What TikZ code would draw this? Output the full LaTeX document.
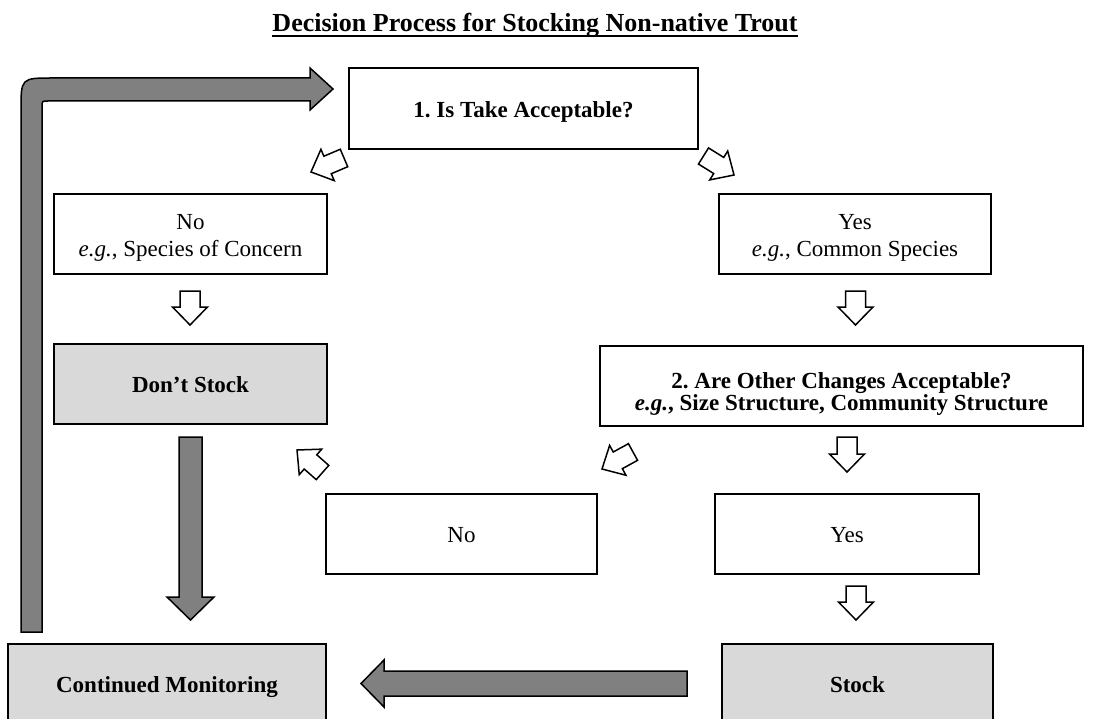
\documentclass[tikz,border=0pt]{standalone}
\usepackage{fontspec}
\setmainfont{Liberation Serif}
\usetikzlibrary{calc}
\definecolor{boxgray}{RGB}{217,217,217}
\definecolor{arrowgray}{RGB}{128,128,128}
\frenchspacing

% block arrow: style, tail, tip, shaft half width, head half width, head length
\newcommand{\blockarrow}[6]{%
  \coordinate (hb) at ($(#3)!#6!(#2)$);
  \draw[#1] ($(#2)!#4!90:(#3)$) -- ($(hb)!#4!90:(#3)$) -- ($(hb)!#5!90:(#3)$) -- (#3)
    -- ($(hb)!#5!-90:(#3)$) -- ($(hb)!#4!-90:(#3)$) -- ($(#2)!#4!-90:(#3)$) -- cycle;
}

\begin{document}
\begin{tikzpicture}[
    x=1pt, y=-1pt,
    box/.style={draw, line width=1.5pt, fill=white, minimum height=80pt, inner sep=0pt, align=center, font=\fontsize{23}{27}\selectfont},
    oneline/.style={box, text height=22pt, text depth=4.8pt},
    shaded/.style={oneline, fill=boxgray, font=\fontsize{23}{27}\selectfont\bfseries},
    hollow/.style={draw, line width=1.5pt, fill=white, line join=miter},
    solid/.style={draw, line width=1.5pt, fill=arrowgray, line join=miter}
]
\useasboundingbox (0,0) rectangle (1097,719);

% Title
\node[anchor=base, font=\fontsize{26}{30}\selectfont\bfseries, inner sep=0pt] (title) at (535,32) {Decision Process for Stocking Non-native Trout};
\draw[line width=2.5pt] ($(title.base west)+(0,4)$) -- ($(title.base east)+(0,4)$);

% First question
\node[oneline, minimum width=349pt, minimum height=81pt, font=\fontsize{23}{27}\selectfont\bfseries] (take) at (523.5,108.5) {1. Is Take Acceptable?};
\node[box, minimum width=273pt, text height=50pt] (no1) at (190.5,234) {No\\\textit{e.g.}, Species of Concern};
\node[box, minimum width=272pt, text height=50pt] (yes1) at (855,234) {Yes\\\textit{e.g.}, Common Species};
\node[shaded, minimum width=273pt] (dont) at (190.5,384) {Don’t Stock};

% Second question
\node[box, minimum width=483pt, text height=54pt, font=\fontsize{23}{22}\selectfont\bfseries] (other) at (841.5,386) {2. Are Other Changes Acceptable?\\\textit{e.g.}, Size Structure, Community Structure};
\node[oneline, minimum width=271pt] (no2) at (461.5,534) {No};
\node[oneline, minimum width=264pt] (yes2) at (847,534) {Yes};

% Outcomes
\node[shaded, minimum width=318pt] (monitor) at (167,684) {Continued Monitoring};
\node[shaded, minimum width=271pt] (stock) at (857.5,684) {Stock};

% Arrow ends
\coordinate (d1t) at (344,158);   \coordinate (d1h) at (311,172);
\coordinate (d2t) at (703.5,156); \coordinate (d2h) at (734,175);
\coordinate (a1t) at (190,291);   \coordinate (a1h) at (190,325);
\coordinate (a2t) at (855.5,291); \coordinate (a2h) at (855.5,325);
\coordinate (a3t) at (847,437);   \coordinate (a3h) at (847,472);
\coordinate (d3t) at (322.5,472.5); \coordinate (d3h) at (297,450);
\coordinate (d4t) at (633,452);   \coordinate (d4h) at (602,469);
\coordinate (a4t) at (856,586);   \coordinate (a4h) at (856,620);
\coordinate (g1t) at (190.5,437); \coordinate (g1h) at (190.5,620);
\coordinate (g2t) at (687,683.5); \coordinate (g2h) at (361,683.5);

% Hollow arrows
\blockarrow{hollow}{d1t}{d1h}{9.5pt}{17pt}{18pt}
\blockarrow{hollow}{d2t}{d2h}{9.5pt}{17pt}{18pt}
\blockarrow{hollow}{a1t}{a1h}{10pt}{17.5pt}{18pt}
\blockarrow{hollow}{a2t}{a2h}{10pt}{17.5pt}{18pt}
\blockarrow{hollow}{a3t}{a3h}{10pt}{17.5pt}{18pt}
\blockarrow{hollow}{d3t}{d3h}{9.5pt}{17pt}{18pt}
\blockarrow{hollow}{d4t}{d4h}{9.5pt}{17pt}{18pt}
\blockarrow{hollow}{a4t}{a4h}{10pt}{17.5pt}{18pt}

% Gray arrows
\blockarrow{solid}{g1t}{g1h}{11.5pt}{23.5pt}{23pt}
\blockarrow{solid}{g2t}{g2h}{12.5pt}{23.5pt}{23pt}

% Loop back to the first question
\draw[solid] (21,632) -- (21,110) .. controls (21,78) .. (53,78) -- (310,78) -- (310,68)
  -- (333,89) -- (310,110) -- (310,101) -- (48,101) .. controls (42,101) .. (42,107) -- (42,632) -- cycle;

\end{tikzpicture}
\end{document}
